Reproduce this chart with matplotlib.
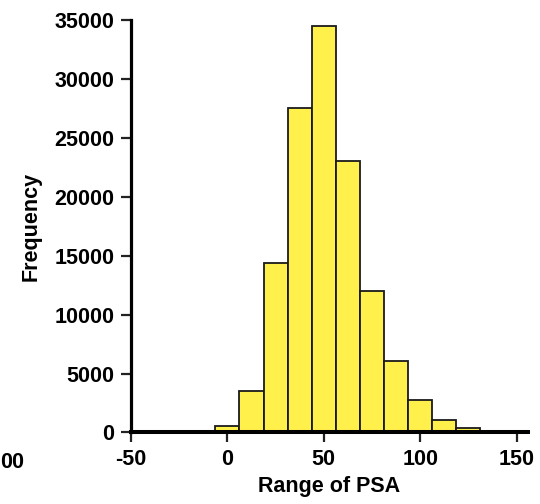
import matplotlib
matplotlib.use("Agg")
import matplotlib.pyplot as plt

# Data
bin_centers = [0, 12.5, 25, 37.5, 50, 62.5, 75, 87.5, 100, 112.5, 125]
frequencies = [550, 3520, 14360, 27570, 34530, 23050, 12040, 6095, 2730, 1060, 380]
bin_width = 12.5
x_ticks = [-50, 0, 50, 100, 150]
y_ticks = [0, 5000, 10000, 15000, 20000, 25000, 30000, 35000]

plt.rcParams['font.family'] = ['Liberation Sans', 'DejaVu Sans']
plt.rcParams['font.weight'] = 'bold'

fig = plt.figure(figsize=(5.4, 5.04), dpi=100)
ax = fig.add_axes([0.2426, 0.1419, 0.7354, 0.8181])

ax.bar(bin_centers, frequencies, width=bin_width, align='center',
       color='#FFF04C', edgecolor='#1a1a1a', linewidth=1.3, zorder=2)

ax.set_xlim(-50, 156)
ax.set_ylim(0, 35000)
ax.set_xticks(x_ticks)
ax.set_yticks(y_ticks)
ax.set_xticklabels([str(v) for v in x_ticks], fontsize=15.5, fontweight='bold')
ax.set_yticklabels([str(v) for v in y_ticks], fontsize=15.5, fontweight='bold')

for s in ['top', 'right']:
    ax.spines[s].set_visible(False)
ax.spines['left'].set_linewidth(2.3)
ax.spines['bottom'].set_linewidth(2.9)
ax.spines['left'].set_capstyle('projecting')
ax.spines['bottom'].set_capstyle('projecting')
ax.spines['bottom'].set_zorder(3)
ax.tick_params(axis='both', direction='out', length=7, width=1.6, pad=5, color='#222222')

ax.set_xlabel('Range of PSA', fontsize=15.5, fontweight='bold', labelpad=4)
ax.set_ylabel('Frequency', fontsize=15.5, fontweight='bold', labelpad=9)

# remnant tick label of an adjacent panel at the left edge
fig.text(0.5 / 540, 1 - 463 / 504, '00', ha='left', va='center',
         fontsize=15.5, fontweight='bold')

fig.savefig('out.png', dpi=100)
